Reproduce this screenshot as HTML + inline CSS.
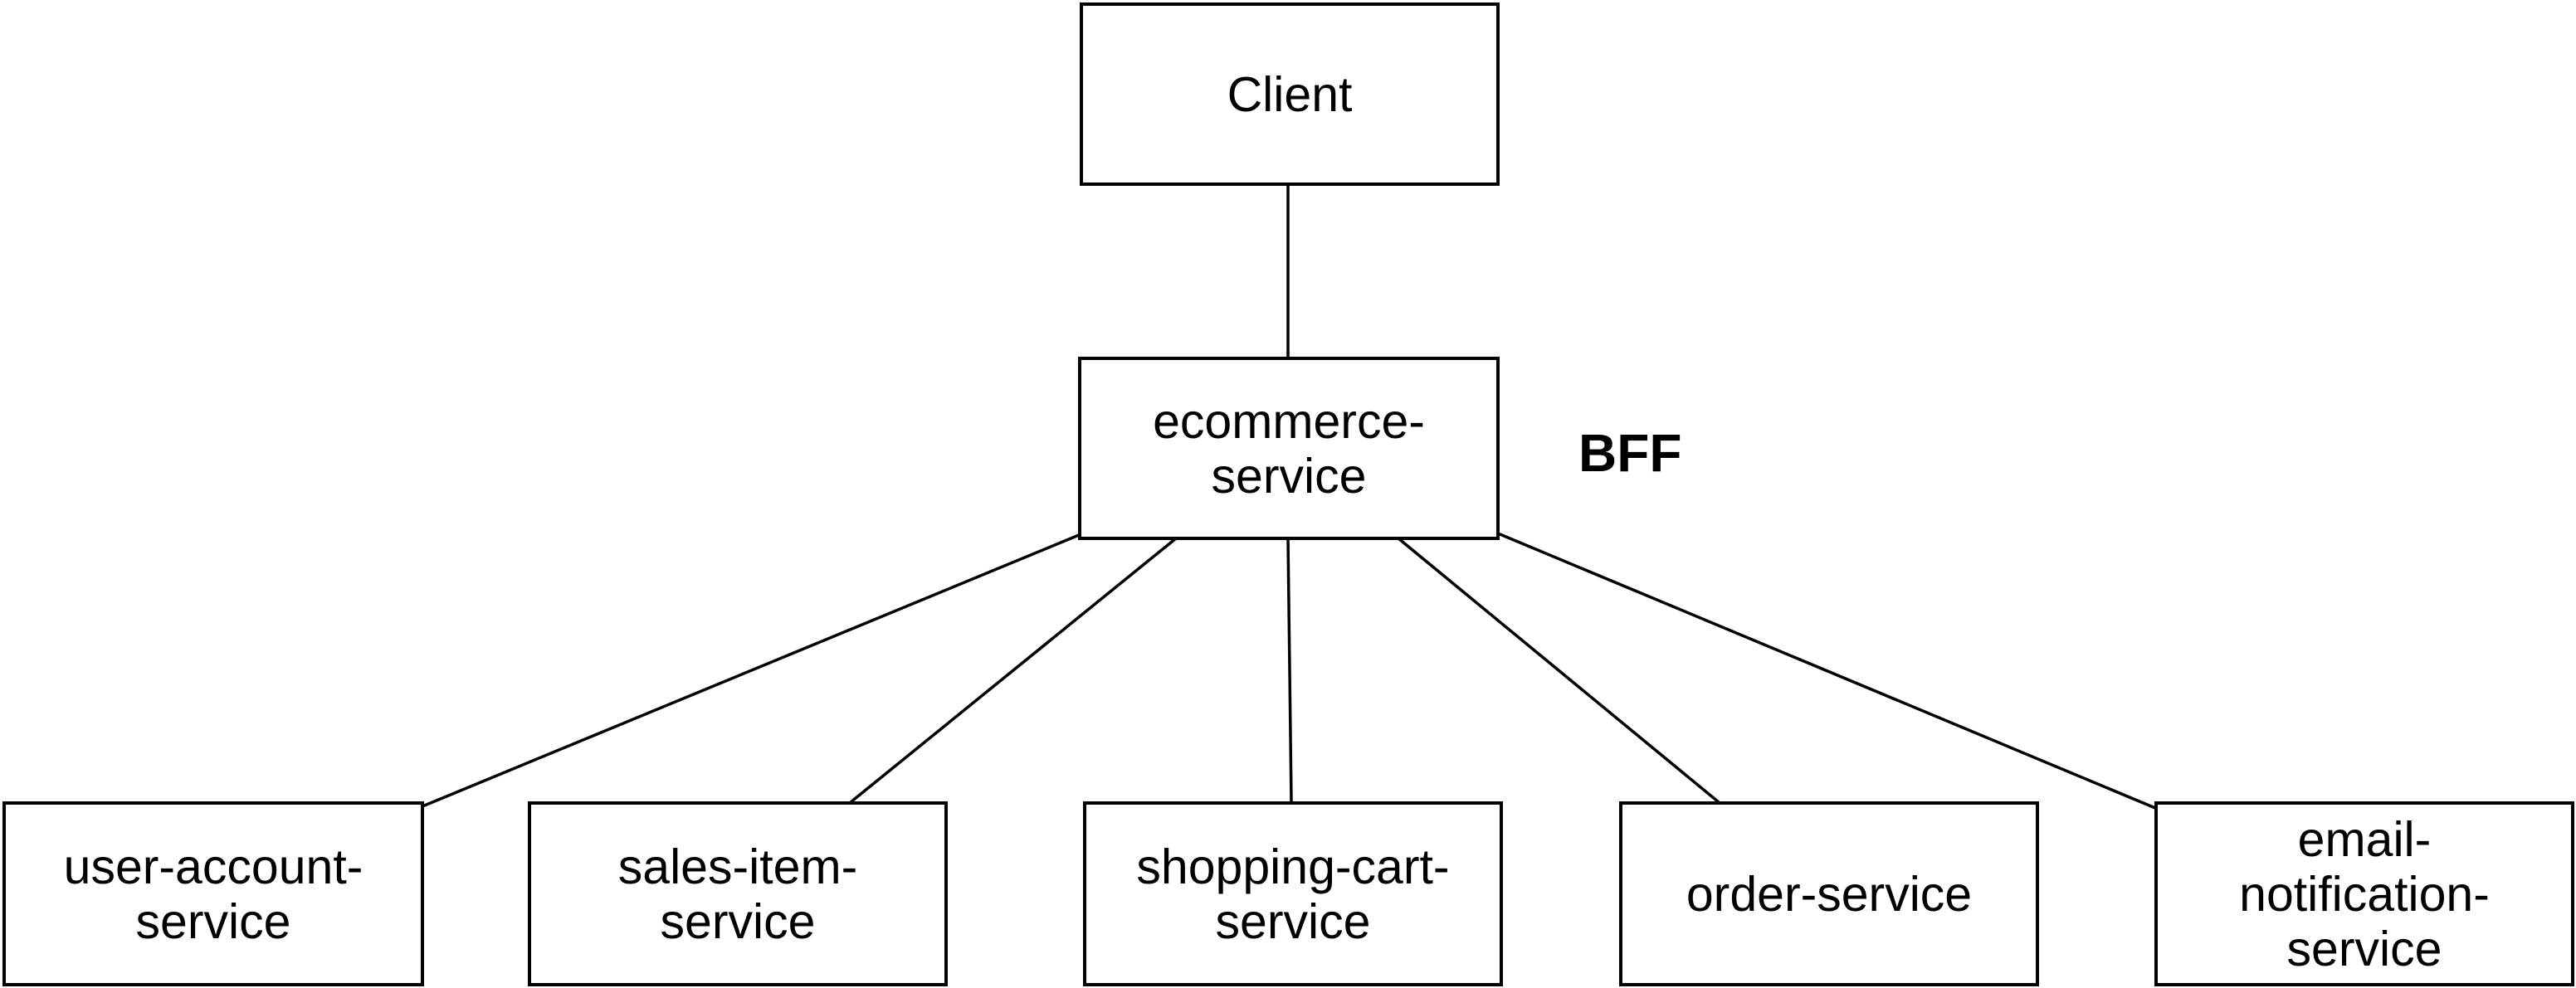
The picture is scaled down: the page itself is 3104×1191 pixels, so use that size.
<!DOCTYPE html>
<html><head><meta charset="utf-8"><style>
html,body{margin:0;padding:0;background:#fff;}
body{width:3104px;height:1191px;position:relative;overflow:hidden;font-family:"Liberation Sans",Arial,sans-serif;}
.b{position:absolute;border:4px solid #000;box-sizing:border-box;display:flex;align-items:center;justify-content:center;text-align:center;font-size:59px;line-height:66px;color:#000;}
svg{position:absolute;left:0;top:0;}
</style></head><body>
<svg width="3104" height="1191">
<g stroke="#000" stroke-width="3.5" fill="none">
<line x1="1552" y1="222" x2="1552" y2="431"/>
<line x1="1300" y1="645" x2="509" y2="972"/>
<line x1="1417" y1="649" x2="1025" y2="967"/>
<line x1="1552" y1="649" x2="1556" y2="967"/>
<line x1="1685" y1="649" x2="2071" y2="967"/>
<line x1="1805" y1="643" x2="2597" y2="974"/>
</g>
</svg>
<div class="b" style="left:1301px;top:3px;width:506px;height:221px;">Client</div>
<div class="b" style="left:1299px;top:430px;width:508px;height:221px;">ecommerce-<br>service</div>
<div style="position:absolute;left:1902px;top:510px;font-size:64px;font-weight:bold;line-height:72px;">BFF</div>
<div class="b" style="left:3px;top:966px;width:508px;height:223px;">user-account-<br>service</div>
<div class="b" style="left:636px;top:966px;width:506px;height:223px;">sales-item-<br>service</div>
<div class="b" style="left:1305px;top:966px;width:506px;height:223px;">shopping-cart-<br>service</div>
<div class="b" style="left:1951px;top:966px;width:506px;height:223px;">order-service</div>
<div class="b" style="left:2596px;top:966px;width:506px;height:223px;">email-<br>notification-<br>service</div>
</body></html>
